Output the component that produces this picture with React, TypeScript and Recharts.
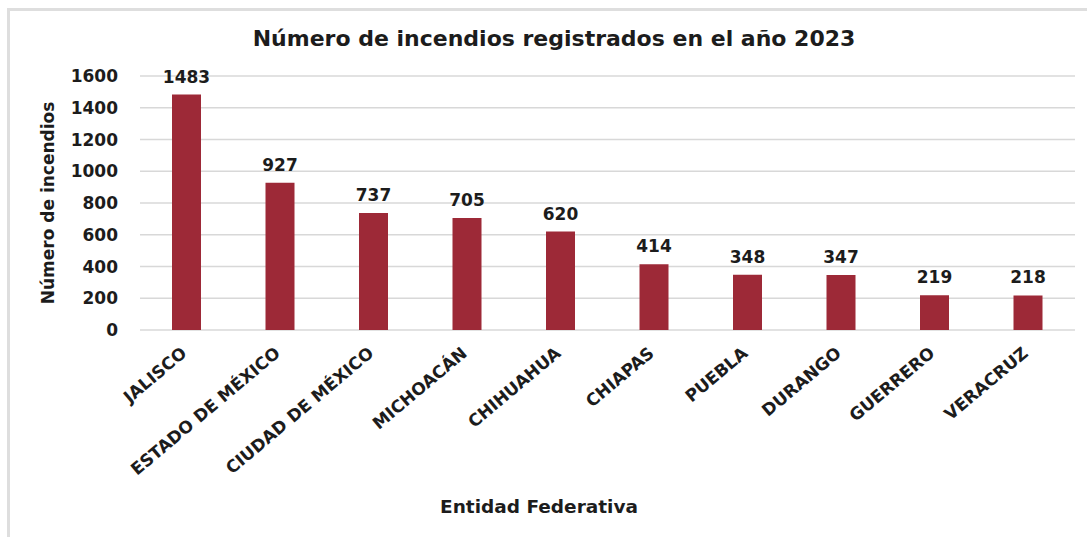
import { BarChart, Bar, XAxis, YAxis, CartesianGrid, LabelList } from "recharts";

const MAROON = "#9d2937";
const INK = "#1c1c1c";
const GRID = "#d8d8d8";
const FRAME = "#dedede";
const FONT = "'DejaVu Sans', sans-serif";

const states = [
  "JALISCO",
  "ESTADO DE MÉXICO",
  "CIUDAD DE MÉXICO",
  "MICHOACÁN",
  "CHIHUAHUA",
  "CHIAPAS",
  "PUEBLA",
  "DURANGO",
  "GUERRERO",
  "VERACRUZ",
];
const fires = [1483, 927, 737, 705, 620, 414, 348, 347, 219, 218];
const yTicks = [0, 200, 400, 600, 800, 1000, 1200, 1400, 1600];

const data = states.map((state, i) => ({ state, fires: fires[i] }));

// rotated category label, baseline ends just under the bar
function StateTick({ x, y, payload }: any) {
  return (
    <g transform={`translate(${x + 1},${y + 17})`}>
      <text
        textAnchor="end"
        transform="rotate(-40)"
        fontFamily={FONT}
        fontWeight="bold"
        fontSize={17}
        fill={INK}
      >
        {payload.value}
      </text>
    </g>
  );
}

export default function App() {
  return (
    <div style={{ position: "relative", width: 1079, height: 521, fontFamily: FONT }}>
      {/* frame: left and top lines only, fixed so they never add scrolling */}
      <div style={{ position: "fixed", left: 7, top: 8, width: 3, height: 529, background: FRAME }} />
      <div style={{ position: "fixed", left: 7, top: 8, width: 1080, height: 3, background: FRAME }} />

      <div style={{ position: "absolute", left: 3, top: 3 }}>
        <div
          style={{
            position: "absolute",
            left: 143,
            top: 16,
            width: 800,
            textAlign: "center",
            fontSize: 22,
            lineHeight: "24px",
            fontWeight: "bold",
            color: INK,
          }}
        >
          Número de incendios registrados en el año 2023
        </div>

        <BarChart
          width={1076}
          height={518}
          data={data}
          margin={{ top: 65, right: 12, left: 0, bottom: 17 }}
        >
          <CartesianGrid vertical={false} stroke={GRID} strokeWidth={1.5} />
          <XAxis
            dataKey="state"
            interval={0}
            axisLine={false}
            tickLine={false}
            height={182}
            tick={<StateTick />}
          />
          <YAxis
            domain={[0, 1600]}
            ticks={yTicks}
            width={129}
            axisLine={false}
            tickLine={false}
            tickMargin={16}
            tick={{ fontSize: 17, fontWeight: "bold", fill: INK, fontFamily: FONT }}
            label={{
              value: "Número de incendios",
              angle: -90,
              position: "insideLeft",
              offset: 37,
              style: { textAnchor: "middle", fontSize: 17, fontWeight: "bold", fill: INK, fontFamily: FONT },
            }}
          />
          <Bar dataKey="fires" fill={MAROON} barSize={29} isAnimationActive={false}>
            <LabelList
              dataKey="fires"
              position="top"
              offset={12}
              fill={INK}
              fontSize={17}
              fontWeight="bold"
              fontFamily={FONT}
            />
          </Bar>
        </BarChart>

        <div
          style={{
            position: "absolute",
            left: 328,
            top: 486,
            width: 400,
            textAlign: "center",
            fontSize: 18.5,
            lineHeight: "20px",
            fontWeight: "bold",
            color: INK,
          }}
        >
          Entidad Federativa
        </div>
      </div>
    </div>
  );
}
